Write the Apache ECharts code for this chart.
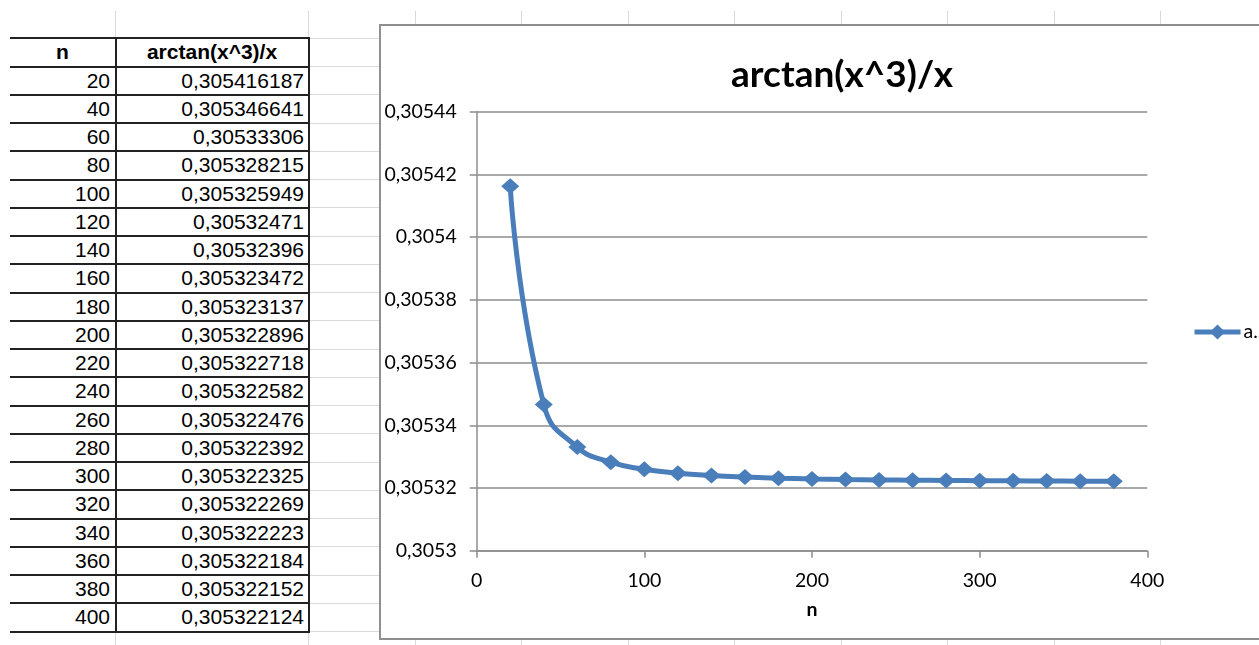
<!DOCTYPE html>
<html><head><meta charset="utf-8">
<script src="https://cdn.jsdelivr.net/npm/echarts@6/dist/echarts.min.js"></script>
<style>
html,body{margin:0;padding:0;width:1259px;height:645px;overflow:hidden;background:#fff;}
#sheet{position:absolute;left:0;top:0;width:1259px;height:645px;}
.gl{position:absolute;background:#d9d9d9;}
.tl{position:absolute;background:#222;}
.cell{position:absolute;font-family:"Liberation Sans",Arial,sans-serif;font-size:21px;color:#000;line-height:28px;white-space:nowrap;}
#box{position:absolute;left:379px;top:24px;width:900px;height:612px;border:2px solid #8f8f8f;background:#fff;}
#chart{position:absolute;left:0;top:0;width:1259px;height:645px;}
</style></head><body>
<div id="sheet"></div>
<div id="box"></div>
<div id="chart"></div>
<script>
// ---- data ----
const headerN = 'n';
const headerF = 'arctan(x^3)/x';
const nValues = [20, 40, 60, 80, 100, 120, 140, 160, 180, 200, 220, 240, 260, 280, 300, 320, 340, 360, 380, 400];
const fValues = [0.305416187, 0.305346641, 0.30533306, 0.305328215, 0.305325949, 0.30532471, 0.30532396,
  0.305323472, 0.305323137, 0.305322896, 0.305322718, 0.305322582, 0.305322476, 0.305322392,
  0.305322325, 0.305322269, 0.305322223, 0.305322184, 0.305322152, 0.305322124];
const chartPointCount = 19; // chart range covers n = 20 .. 380
const chartTitle = 'arctan(x^3)/x';
const xAxisName = 'n';

// ---- spreadsheet background ----
const sheet = document.getElementById('sheet');
function addDiv(cls, l, t, w, h, txt, align, bold) {
  const d = document.createElement('div');
  d.className = cls;
  d.style.left = l + 'px'; d.style.top = t + 'px';
  d.style.width = w + 'px'; d.style.height = h + 'px';
  if (txt !== undefined) { d.textContent = txt; d.style.textAlign = align; if (bold) d.style.fontWeight = 'bold'; }
  sheet.appendChild(d);
  return d;
}
const rowTop = 38.3, rowH = 28.25;
const colLines = [115.5, 308.5, 415, 521.5, 628, 734.5, 841, 947.5, 1054, 1160.5];
colLines.forEach(x => addDiv('gl', x - 0.5, 11, 1, 634));
for (let k = 0; k < 22; k++) addDiv('gl', 308, rowTop + k * rowH - 0.5, 951, 1);

// table
const nRows = nValues.length;
for (let k = 0; k <= nRows + 1; k++) addDiv('tl', 10, rowTop + k * rowH - 1, 299.5, 2);
const tableBottom = rowTop + (nRows + 1) * rowH;
addDiv('tl', 114.5, rowTop - 1, 2, tableBottom - rowTop + 2);
addDiv('tl', 307.5, rowTop - 1, 2, tableBottom - rowTop + 2);
addDiv('cell', 10, rowTop, 105, rowH, headerN, 'center', true);
addDiv('cell', 116, rowTop, 192, rowH, headerF, 'center', true);
for (let i = 0; i < nRows; i++) {
  const t = rowTop + (i + 1) * rowH;
  addDiv('cell', 10, t, 100, rowH, String(nValues[i]), 'right');
  addDiv('cell', 116, t, 188, rowH, String(fValues[i]).replace('.', ','), 'right');
}

// ---- chart ----
const seriesData = [];
for (let i = 0; i < chartPointCount; i++) seriesData.push([nValues[i], fValues[i]]);
const blue = '#4a7ebb';
const axisGray = '#8c8c8c';
const chart = echarts.init(document.getElementById('chart'), null, {renderer: 'canvas'});
chart.setOption({
  animation: false,
  title: {
    text: chartTitle, left: 837, top: 52, textAlign: 'center',
    textStyle: {fontFamily: 'Lato', fontWeight: 'bold', fontSize: 37, color: '#000'}
  },
  legend: {
    left: 1192, top: 322, padding: 0, itemWidth: 46, itemHeight: 19, itemGap: 4,
    formatter: name => name.charAt(0) + '...',
    lineStyle: {width: 5},
    textStyle: {fontFamily: 'Lato', fontSize: 19.5, color: '#000', padding: [0, 0, 0, -2]}
  },
  grid: {left: 476.7, right: 111.7, top: 111.7, bottom: 94.3},
  xAxis: {
    type: 'value', min: 0, max: 400, interval: 100,
    name: xAxisName, nameLocation: 'middle', nameGap: 49,
    nameTextStyle: {fontFamily: 'Lato', fontWeight: 'bold', fontSize: 19.5, color: '#000'},
    axisLine: {show: true, lineStyle: {color: axisGray, width: 1.5}},
    axisTick: {show: true, length: 7, lineStyle: {color: axisGray, width: 1.5}},
    axisLabel: {margin: 20, fontFamily: 'Lato', fontSize: 19.5, color: '#000'},
    splitLine: {show: false}
  },
  yAxis: {
    type: 'value', min: 0.3053, max: 0.30544, interval: 0.00002,
    axisLine: {show: true, lineStyle: {color: axisGray, width: 1.5}},
    axisTick: {show: true, length: 7, lineStyle: {color: axisGray, width: 1.5}},
    axisLabel: {
      margin: 20, fontFamily: 'Lato', fontSize: 19.5, color: '#000',
      formatter: v => Number(v.toFixed(5)).toString().replace('.', ',')
    },
    splitLine: {show: true, lineStyle: {color: axisGray, width: 1.5}}
  },
  series: [{
    name: headerF, type: 'line', data: seriesData, smooth: true,
    symbol: 'diamond', symbolSize: [18, 16],
    lineStyle: {color: blue, width: 5},
    itemStyle: {color: blue}
  }]
});
</script>
</body></html>
